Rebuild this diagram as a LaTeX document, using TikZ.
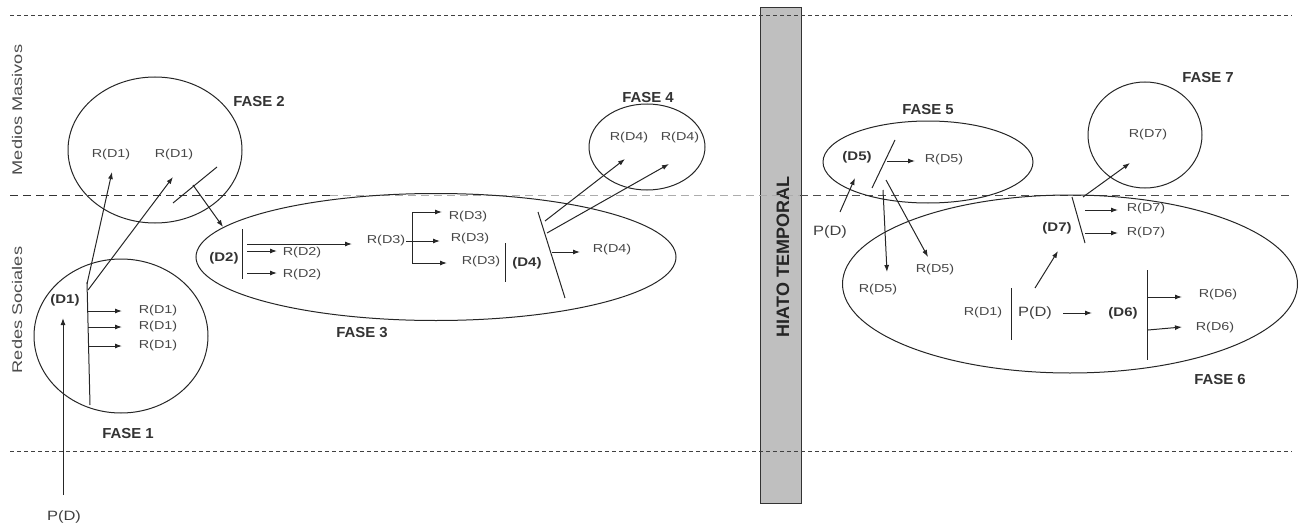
\documentclass[tikz,border=0pt]{standalone}
\usepackage{fontspec}
\setmainfont{Liberation Sans}
\usetikzlibrary{arrows.meta,shapes.geometric}
\begin{document}
\begin{tikzpicture}[x=1pt,y=-1pt,
  ln/.style={line width=1pt, draw=black!85},
  ar/.style={ln, -{Latex[length=7pt,width=5pt]}},
  rl/.style={font=\fontsize{11.5}{13}\selectfont, text=black!72, xscale=1.25, inner sep=0},
  pl/.style={font=\fontsize{13.5}{15}\selectfont, text=black!75, xscale=1.22, inner sep=0},
  dl/.style={font=\bfseries\fontsize{12.5}{14}\selectfont, text=black!80, xscale=1.2, inner sep=0},
  fl/.style={font=\bfseries\fontsize{14.5}{16}\selectfont, text=black!80, xscale=1.03, inner sep=0},
  side/.style={font=\fontsize{14}{16}\selectfont, text=black!70, rotate=90, xscale=1.3, inner sep=0},
  fase/.style={ellipse, draw=black!85, line width=1pt, inner sep=0},
  topdash/.style={line width=0.9pt, draw=black!75, dash pattern=on 4pt off 3pt},
  middash/.style={line width=1pt, dash pattern=on 8pt off 5pt}
]
\useasboundingbox (0,0) rectangle (1302,527);

% hiato box
\node[draw=black!80, fill=gray!50, minimum width=41, minimum height=495, inner sep=0, line width=1pt] (hiato) at (780.5,255.5) {};
\node[font=\bfseries\fontsize{18}{20}\selectfont, text=black!85, rotate=90, inner sep=0] (ht) at (783,257) {HIATO TEMPORAL};

% dashed separators
\coordinate (tl) at (10,15); \coordinate (tr) at (1292,15);
\coordinate (bl) at (10,451); \coordinate (br) at (1292,451);
\coordinate (m0) at (10,195); \coordinate (m1) at (330,195);
\coordinate (m2) at (760,195); \coordinate (m3) at (800,195);
\coordinate (m4) at (1292,195);
\draw[topdash] (tl) -- (tr);
\draw[topdash] (bl) -- (br);
\draw[middash, draw=black!80] (m0) -- (m1);
\draw[middash, draw=gray!65] (m1) -- (m3);
\draw[middash, draw=black!70] (m3) -- (m4);

% side labels
\node[side] (mm) at (17,110) {Medios Masivos};
\node[side] (rs) at (17,310) {Redes Sociales};

% phase regions
\node[fase, minimum width=174, minimum height=154] (f1) at (121,336) {};
\node[fase, minimum width=174, minimum height=146] (f2) at (155,150) {};
\node[fase, minimum width=480, minimum height=127] (f3) at (436,257) {};
\node[fase, minimum width=116, minimum height=86] (f4) at (647,147) {};
\node[fase, minimum width=210, minimum height=82] (f5) at (928,162) {};
\node[fase, minimum width=455, minimum height=178] (f6) at (1070,284) {};
\node[fase, minimum width=114, minimum height=106] (f7) at (1145,135) {};

\node[fl] (lf1) at (128,434) {FASE 1};
\node[fl] (lf2) at (259,102) {FASE 2};
\node[fl] (lf3) at (362,333) {FASE 3};
\node[fl] (lf4) at (648,98) {FASE 4};
\node[fl] (lf5) at (928,110) {FASE 5};
\node[fl] (lf6) at (1220,380) {FASE 6};
\node[fl] (lf7) at (1208,78) {FASE 7};

% ---------- phase 1
\node[pl] (pd1) at (64,517) {P(D)};
\node[dl] (d1) at (65,300) {(D1)};
\coordinate (a1s) at (63,495); \coordinate (a1t) at (63,318);
\draw[ar] (a1s) -- (a1t);
\coordinate (v1a) at (87,282); \coordinate (v1b) at (90,405);
\draw[ln] (v1a) -- (v1b);
\node[rl] (r11) at (158,311) {R(D1)};
\node[rl] (r12) at (158,327) {R(D1)};
\node[rl] (r13) at (158,346) {R(D1)};
\coordinate (h11) at (88,311); \coordinate (h11t) at (122,311);
\coordinate (h12) at (88,327); \coordinate (h12t) at (122,327);
\coordinate (h13) at (89,346); \coordinate (h13t) at (122,346);
\draw[ar] (h11) -- (h11t);
\draw[ar] (h12) -- (h12t);
\draw[ar] (h13) -- (h13t);

% ---------- phase 2
\node[rl] (r21) at (111,155) {R(D1)};
\node[rl] (r22) at (174,155) {R(D1)};
\coordinate (u1s) at (87,284); \coordinate (u1t) at (112,172);
\coordinate (u2s) at (88,290); \coordinate (u2t) at (173,177);
\draw[ar] (u1s) -- (u1t);
\draw[ar] (u2s) -- (u2t);
\coordinate (c2a) at (173,203); \coordinate (c2b) at (217,167);
\draw[ln] (c2a) -- (c2b);
\coordinate (g2s) at (193,185); \coordinate (g2t) at (223,227);
\draw[ar] (g2s) -- (g2t);

% ---------- phase 3
\node[dl] (d2) at (224,258) {(D2)};
\coordinate (v2a) at (242,229); \coordinate (v2b) at (242,279);
\draw[ln] (v2a) -- (v2b);
\coordinate (k0) at (247,244); \coordinate (k0t) at (352,244);
\coordinate (k1) at (247,251); \coordinate (k1t) at (277,251);
\coordinate (k2) at (247,273); \coordinate (k2t) at (277,273);
\draw[ar] (k0) -- (k0t);
\draw[ar] (k1) -- (k1t);
\draw[ar] (k2) -- (k2t);
\node[rl] (r2a) at (302,253) {R(D2)};
\node[rl] (r2b) at (302,275) {R(D2)};
\node[rl] (r3) at (386,241) {R(D3)};
\coordinate (v3a) at (412,212); \coordinate (v3b) at (412,263);
\draw[ln] (v3a) -- (v3b);
\coordinate (b1t) at (442,212);
\coordinate (b2s) at (406,241); \coordinate (b2t) at (440,241);
\coordinate (b3t) at (447,263);
\draw[ar] (v3a) -- (b1t);
\draw[ar] (b2s) -- (b2t);
\draw[ar] (v3b) -- (b3t);
\node[rl] (r3a) at (468,217) {R(D3)};
\node[rl] (r3b) at (470,239) {R(D3)};
\node[rl] (r3c) at (481,262) {R(D3)};
\coordinate (v4a) at (505,243); \coordinate (v4b) at (505,282);
\draw[ln] (v4a) -- (v4b);
\node[dl] (d4) at (527,263) {(D4)};
\coordinate (s4a) at (538,212); \coordinate (s4b) at (565,298);
\draw[ln] (s4a) -- (s4b);
\coordinate (e4s) at (552,252); \coordinate (e4t) at (580,252);
\draw[ar] (e4s) -- (e4t);
\node[rl] (r4) at (612,250) {R(D4)};

% ---------- phase 4
\node[rl] (r4a) at (629,138) {R(D4)};
\node[rl] (r4b) at (680,138) {R(D4)};
\coordinate (q1s) at (545,221); \coordinate (q1t) at (625,159);
\coordinate (q2s) at (547,233); \coordinate (q2t) at (669,164);
\draw[ar] (q1s) -- (q1t);
\draw[ar] (q2s) -- (q2t);

% ---------- phase 5
\node[dl] (d5) at (857,157) {(D5)};
\node[pl] (pd5) at (830,232) {P(D)};
\coordinate (p5s) at (840,212); \coordinate (p5t) at (855,178);
\draw[ar] (p5s) -- (p5t);
\coordinate (s5a) at (895,140); \coordinate (s5b) at (872,188);
\draw[ln] (s5a) -- (s5b);
\coordinate (e5s) at (887,161); \coordinate (e5t) at (915,161);
\draw[ar] (e5s) -- (e5t);
\node[rl] (r5) at (944,160) {R(D5)};
\coordinate (w1s) at (883,190); \coordinate (w1t) at (887,272);
\coordinate (w2s) at (886,180); \coordinate (w2t) at (928,257);
\draw[ar] (w1s) -- (w1t);
\draw[ar] (w2s) -- (w2t);
\node[rl] (r5a) at (878,290) {R(D5)};
\node[rl] (r5b) at (935,270) {R(D5)};

% ---------- phase 6 / 7
\node[dl] (d7) at (1057,228) {(D7)};
\coordinate (s7a) at (1072,197); \coordinate (s7b) at (1085,243);
\draw[ln] (s7a) -- (s7b);
\coordinate (x1s) at (1085,210); \coordinate (x1t) at (1118,210);
\coordinate (x2s) at (1085,233); \coordinate (x2t) at (1118,233);
\draw[ar] (x1s) -- (x1t);
\draw[ar] (x2s) -- (x2t);
\node[rl] (r7a) at (1146,209) {R(D7)};
\node[rl] (r7b) at (1146,233) {R(D7)};
\coordinate (y7s) at (1083,197); \coordinate (y7t) at (1130,163);
\draw[ar] (y7s) -- (y7t);
\node[rl] (r7) at (1148,135) {R(D7)};

\node[rl] (r61) at (983,313) {R(D1)};
\coordinate (v6a) at (1011,288); \coordinate (v6b) at (1011,340);
\draw[ln] (v6a) -- (v6b);
\node[pl] (pd6) at (1035,313) {P(D)};
\coordinate (z1s) at (1063,313); \coordinate (z1t) at (1092,313);
\draw[ar] (z1s) -- (z1t);
\node[dl] (d6) at (1123,313) {(D6)};
\coordinate (z2s) at (1035,288); \coordinate (z2t) at (1058,251);
\draw[ar] (z2s) -- (z2t);
\coordinate (v7a) at (1147,270); \coordinate (v7b) at (1147,360);
\draw[ln] (v7a) -- (v7b);
\coordinate (o1s) at (1147,297); \coordinate (o1t) at (1182,297);
\coordinate (o2s) at (1148,330); \coordinate (o2t) at (1182,327);
\draw[ar] (o1s) -- (o1t);
\draw[ar] (o2s) -- (o2t);
\node[rl] (r6a) at (1218,295) {R(D6)};
\node[rl] (r6b) at (1215,328) {R(D6)};
\end{tikzpicture}
\end{document}
